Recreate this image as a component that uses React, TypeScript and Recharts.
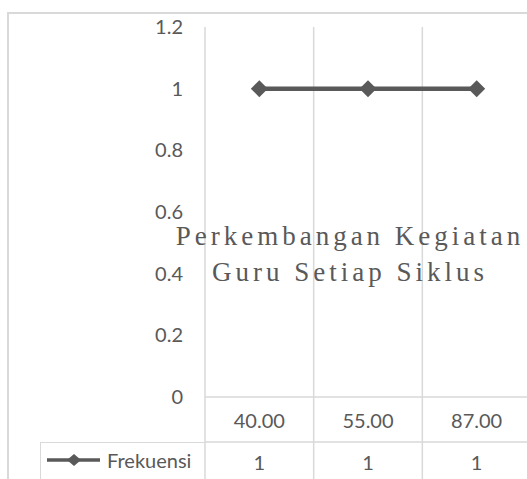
import React from 'react';
import {
  LineChart,
  Line,
  XAxis,
  YAxis,
  CartesianGrid,
  Legend
} from 'recharts';

// Values
const categories = ['40.00', '55.00', '87.00'];
const frekuensi = [1, 1, 1];
const yTicks = [0, 0.2, 0.4, 0.6, 0.8, 1, 1.2];
const seriesName = 'Frekuensi';
const title = ['Perkembangan Kegiatan', 'Guru Setiap Siklus'];

const data = categories.map((name, i) => ({ name, value: frekuensi[i] }));

const GRID = '#d9d9d9';
const TEXT = '#595959';
const FONT = 'Lato, "Open Sans", sans-serif';

const CHART_W = 531;
const CHART_H = 479;
const TABLE_H = 82;
const ROW_H = 45;
const PLOT_W = CHART_W - 205;
const HALF = PLOT_W / categories.length / 2;

const Diamond = (props: any) => {
  const { cx, cy, index } = props;
  if (cx == null || cy == null) return null;
  const r = 8.5;
  return (
    <path
      key={`dot-${index}`}
      d={`M${cx},${cy - r} L${cx + r},${cy} L${cx},${cy + r} L${cx - r},${cy} Z`}
      fill={TEXT}
    />
  );
};

// x axis drawn as Excel's data table: category row and value row
const TableTick = (props: any) => {
  const { x, y, payload } = props;
  const i = payload.index;
  const last = i === categories.length - 1;
  return (
    <g>
      <line x1={x - HALF} x2={x - HALF} y1={y} y2={y + TABLE_H} stroke={GRID} strokeWidth={1.5} />
      {last && (
        <line x1={x + HALF} x2={x + HALF} y1={y} y2={y + TABLE_H} stroke={GRID} strokeWidth={1.5} />
      )}
      <line x1={x - HALF} x2={x + HALF} y1={y + ROW_H} y2={y + ROW_H} stroke={GRID} strokeWidth={1.5} />
      <text x={x} y={y + 23} textAnchor="middle" dominantBaseline="central" fill={TEXT} fontSize={20} fontFamily={FONT}>
        {payload.value}
      </text>
      <text x={x} y={y + 65} textAnchor="middle" dominantBaseline="central" fill={TEXT} fontSize={20} fontFamily={FONT}>
        {frekuensi[i]}
      </text>
    </g>
  );
};

const LegendCell = ({ payload }: any) => {
  const item = payload && payload[0];
  return (
    <div style={{
      width: 165,
      height: 37,
      borderTop: `1.5px solid ${GRID}`,
      borderLeft: `1.5px solid ${GRID}`,
      boxSizing: 'border-box',
      position: 'relative'
    }}>
      <svg width={60} height={36} style={{ position: 'absolute', left: 6, top: 0 }}>
        <line x1={0} x2={53} y1={17} y2={17} stroke={TEXT} strokeWidth={3.5} />
        <path d="M27,11 L34,17 L27,23 L20,17 Z" fill={TEXT} />
      </svg>
      <span style={{
        position: 'absolute',
        left: 66,
        top: 4,
        fontFamily: FONT,
        fontSize: 20,
        color: TEXT,
        lineHeight: '26px'
      }}>
        {item ? item.value : seriesName}
      </span>
    </div>
  );
};

export default function App() {
  return (
    <div style={{
      position: 'fixed',
      left: 0,
      top: 0,
      width: 527,
      height: 479,
      overflow: 'hidden',
      background: '#fff'
    }}>
      <div style={{
        position: 'absolute',
        left: 7,
        top: 12,
        width: 600,
        height: 600,
        borderLeft: `2px solid ${GRID}`,
        borderTop: `2px solid ${GRID}`
      }} />
      <div style={{ position: 'absolute', left: 0, top: 0 }}>
        <LineChart
          width={CHART_W}
          height={CHART_H}
          data={data}
          margin={{ top: 27, right: 0, bottom: 0, left: 145 }}
        >
          <CartesianGrid
            horizontal={false}
            stroke={GRID}
            strokeWidth={1.5}
            verticalCoordinatesGenerator={({ offset }: any) =>
              categories.map((_, k) => offset.left + (k * offset.width) / categories.length)
                .concat(offset.left + offset.width)
            }
          />
          <XAxis
            dataKey="name"
            height={TABLE_H}
            padding={{ left: HALF, right: HALF }}
            axisLine={{ stroke: GRID, strokeWidth: 1.5 }}
            tickLine={false}
            tickSize={0}
            tickMargin={0}
            interval={0}
            tick={(p: any) => <TableTick {...p} />}
          />
          <YAxis
            domain={[0, 1.2]}
            ticks={yTicks}
            axisLine={false}
            tickLine={false}
            tickSize={0}
            tickMargin={22}
            tickFormatter={(v: number) => String(v)}
            tick={{ fill: TEXT, fontSize: 20, fontFamily: FONT }}
          />
          <Legend
            layout="vertical"
            align="center"
            verticalAlign="middle"
            content={<LegendCell />}
            wrapperStyle={{ left: 40, top: 442, width: 165, height: 37 }}
          />
          <Line
            type="linear"
            dataKey="value"
            name={seriesName}
            stroke={TEXT}
            strokeWidth={4.5}
            dot={Diamond}
            activeDot={false}
            isAnimationActive={false}
          />
        </LineChart>
      </div>
      <div style={{
        position: 'absolute',
        left: 150,
        top: 218,
        width: 400,
        textAlign: 'center',
        fontFamily: '"Liberation Serif", "Times New Roman", serif',
        fontSize: 27,
        letterSpacing: 4,
        lineHeight: '36px',
        color: TEXT,
        whiteSpace: 'nowrap',
        pointerEvents: 'none'
      }}>
        {title.map(t => <div key={t}>{t}</div>)}
      </div>
    </div>
  );
}
